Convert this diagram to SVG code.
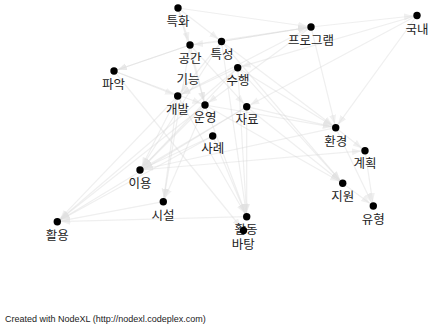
<svg xmlns="http://www.w3.org/2000/svg" width="430" height="324" viewBox="0 0 430 324">
<style>
.e{stroke:#d6d6d6;stroke-opacity:0.4;stroke-width:1.2;fill:none;marker-end:url(#ah)}
.n{fill:#000}
.t{font-family:"Noto Sans CJK KR","Noto Sans",sans-serif;font-size:12.5px;fill:#222;text-anchor:middle}
.f{font-family:"Liberation Sans",Arial,sans-serif;font-size:9px;fill:#222}
</style>
<defs>
<marker id="ah" markerUnits="userSpaceOnUse" markerWidth="16" markerHeight="10" refX="13" refY="3.5" orient="auto">
<path d="M0,0 L9,3.5 L0,7 z" fill="#e2e2e2" fill-opacity="0.5"/>
</marker>
</defs>
<rect width="430" height="324" fill="#fff"/>
<g id="edges">
<line class="e" x1="178" y1="8" x2="311" y2="27"/>
<line class="e" x1="178" y1="8" x2="190" y2="45"/>
<line class="e" x1="178" y1="8" x2="205" y2="105"/>
<line class="e" x1="178" y1="8" x2="221.5" y2="41.5"/>
<line class="e" x1="190" y1="45" x2="311" y2="27"/>
<line class="e" x1="221.5" y1="41.5" x2="311" y2="27"/>
<line class="e" x1="221.5" y1="41.5" x2="311" y2="27"/>
<line class="e" x1="311" y1="27" x2="417" y2="15.5"/>
<line class="e" x1="221.5" y1="41.5" x2="190" y2="45"/>
<line class="e" x1="190" y1="45" x2="114" y2="71"/>
<line class="e" x1="190" y1="45" x2="114" y2="71"/>
<line class="e" x1="114" y1="71" x2="205" y2="105"/>
<line class="e" x1="114" y1="71" x2="177.7" y2="96"/>
<line class="e" x1="114" y1="71" x2="243.5" y2="230.5"/>
<line class="e" x1="190" y1="45" x2="163.3" y2="201.7"/>
<line class="e" x1="190" y1="45" x2="205" y2="105"/>
<line class="e" x1="190" y1="45" x2="246.7" y2="106.7"/>
<line class="e" x1="221.5" y1="41.5" x2="177.7" y2="96"/>
<line class="e" x1="221.5" y1="41.5" x2="335.7" y2="127.7"/>
<line class="e" x1="221.5" y1="41.5" x2="342.7" y2="183.3"/>
<line class="e" x1="221.5" y1="41.5" x2="140" y2="170"/>
<line class="e" x1="221.5" y1="41.5" x2="246.7" y2="216.7"/>
<line class="e" x1="237.7" y1="67.7" x2="335.7" y2="127.7"/>
<line class="e" x1="237.7" y1="67.7" x2="342.7" y2="183.3"/>
<line class="e" x1="237.7" y1="67.7" x2="140" y2="170"/>
<line class="e" x1="237.7" y1="67.7" x2="57.3" y2="221.7"/>
<line class="e" x1="237.7" y1="67.7" x2="246.7" y2="216.7"/>
<line class="e" x1="237.7" y1="67.7" x2="177.7" y2="96"/>
<line class="e" x1="417" y1="15.5" x2="237.7" y2="67.7"/>
<line class="e" x1="417" y1="15.5" x2="246.7" y2="106.7"/>
<line class="e" x1="417" y1="15.5" x2="335.7" y2="127.7"/>
<line class="e" x1="311" y1="27" x2="335.7" y2="127.7"/>
<line class="e" x1="311" y1="27" x2="205" y2="105"/>
<line class="e" x1="311" y1="27" x2="177.7" y2="96"/>
<line class="e" x1="177.7" y1="96" x2="57.3" y2="221.7"/>
<line class="e" x1="177.7" y1="96" x2="163.3" y2="201.7"/>
<line class="e" x1="177.7" y1="96" x2="140" y2="170"/>
<line class="e" x1="177.7" y1="96" x2="246.7" y2="216.7"/>
<line class="e" x1="205" y1="105" x2="57.3" y2="221.7"/>
<line class="e" x1="205" y1="105" x2="140" y2="170"/>
<line class="e" x1="205" y1="105" x2="163.3" y2="201.7"/>
<line class="e" x1="205" y1="105" x2="246.7" y2="216.7"/>
<line class="e" x1="205" y1="105" x2="342.7" y2="183.3"/>
<line class="e" x1="205" y1="105" x2="335.7" y2="127.7"/>
<line class="e" x1="246.7" y1="106.7" x2="57.3" y2="221.7"/>
<line class="e" x1="246.7" y1="106.7" x2="140" y2="170"/>
<line class="e" x1="246.7" y1="106.7" x2="246.7" y2="216.7"/>
<line class="e" x1="246.7" y1="106.7" x2="342.7" y2="183.3"/>
<line class="e" x1="246.7" y1="106.7" x2="335.7" y2="127.7"/>
<line class="e" x1="212.7" y1="136" x2="57.3" y2="221.7"/>
<line class="e" x1="212.7" y1="136" x2="246.7" y2="216.7"/>
<line class="e" x1="212.7" y1="136" x2="140" y2="170"/>
<line class="e" x1="335.7" y1="127.7" x2="140" y2="170"/>
<line class="e" x1="140" y1="170" x2="365" y2="150.7"/>
<line class="e" x1="335.7" y1="127.7" x2="373.3" y2="206"/>
<line class="e" x1="365" y1="150.7" x2="373.3" y2="206"/>
<line class="e" x1="342.7" y1="183.3" x2="373.3" y2="206"/>
<line class="e" x1="335.7" y1="127.7" x2="365" y2="150.7"/>
<line class="e" x1="246.7" y1="216.7" x2="57.3" y2="221.7"/>
<line class="e" x1="163.3" y1="201.7" x2="57.3" y2="221.7"/>
</g>
<g id="n-특화"><circle class="n" cx="178" cy="8" r="3.7"/><text class="t" x="178" y="25.5">특화</text></g>
<g id="n-공간"><circle class="n" cx="190" cy="45" r="3.7"/><text class="t" x="190" y="62.5">공간</text></g>
<g id="n-특성"><circle class="n" cx="221.5" cy="41.5" r="3.7"/><text class="t" x="222" y="59">특성</text></g>
<g id="n-프로그램"><circle class="n" cx="311" cy="27" r="3.7"/><text class="t" x="311" y="44.5">프로그램</text></g>
<g id="n-국내"><circle class="n" cx="417" cy="15.5" r="3.7"/><text class="t" x="417" y="34">국내</text></g>
<g id="n-파악"><circle class="n" cx="114" cy="71" r="3.7"/><text class="t" x="113.5" y="88.5">파악</text></g>
<g id="n-기능"><text class="t" x="188" y="83.5">기능</text></g>
<g id="n-수행"><circle class="n" cx="237.7" cy="67.7" r="3.7"/><text class="t" x="238" y="84.5">수행</text></g>
<g id="n-개발"><circle class="n" cx="177.7" cy="96" r="3.7"/><text class="t" x="177.5" y="113.5">개발</text></g>
<g id="n-운영"><circle class="n" cx="205" cy="105" r="3.7"/><text class="t" x="205" y="121.5">운영</text></g>
<g id="n-자료"><circle class="n" cx="246.7" cy="106.7" r="3.7"/><text class="t" x="247" y="123.5">자료</text></g>
<g id="n-사례"><circle class="n" cx="212.7" cy="136" r="3.7"/><text class="t" x="212.7" y="153">사례</text></g>
<g id="n-환경"><circle class="n" cx="335.7" cy="127.7" r="3.7"/><text class="t" x="335.7" y="145.5">환경</text></g>
<g id="n-계획"><circle class="n" cx="365" cy="150.7" r="3.7"/><text class="t" x="365" y="167.5">계획</text></g>
<g id="n-지원"><circle class="n" cx="342.7" cy="183.3" r="3.7"/><text class="t" x="342.7" y="201">지원</text></g>
<g id="n-유형"><circle class="n" cx="373.3" cy="206" r="3.7"/><text class="t" x="373.3" y="223.5">유형</text></g>
<g id="n-이용"><circle class="n" cx="140" cy="170" r="3.7"/><text class="t" x="140" y="187.5">이용</text></g>
<g id="n-시설"><circle class="n" cx="163.3" cy="201.7" r="3.7"/><text class="t" x="163" y="219.5">시설</text></g>
<g id="n-활용"><circle class="n" cx="57.3" cy="221.7" r="3.7"/><text class="t" x="57.3" y="239.5">활용</text></g>
<g id="n-활동"><circle class="n" cx="246.7" cy="216.7" r="3.7"/><text class="t" x="246" y="233.5">활동</text></g>
<g id="n-바탕"><circle class="n" cx="243.5" cy="230.5" r="3.7"/><text class="t" x="243.3" y="249">바탕</text></g>
<text class="f" x="5" y="322">Created with NodeXL (http://nodexl.codeplex.com)</text>
</svg>
